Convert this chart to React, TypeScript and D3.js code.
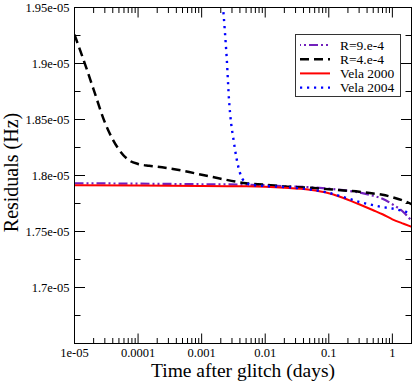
import * as d3 from "d3";

const width = 414;
const height = 382;

// plot frame (pixels)
const frame = { left: 74.5, right: 411.5, top: 7.5, bottom: 343.5 };

// R=9.e-4 (dash-dot)
const tR9 = [1e-5, 1e-4, 1e-3, 5e-3, 1e-2, 2e-2, 5e-2, 0.1, 0.2, 0.3, 0.5, 0.7, 1, 1.5, 2];
const vR9 = [1.7931e-5, 1.7927e-5, 1.7922e-5, 1.7918e-5, 1.7913e-5, 1.7904e-5, 1.7895e-5, 1.7882e-5,
  1.7864e-5, 1.7849e-5, 1.7819e-5, 1.7792e-5, 1.7743e-5, 1.7672e-5, 1.7596e-5];

// R=4.e-4 (dashed)
const tR4 = [1e-5, 1.5e-5, 2e-5, 3e-5, 5e-5, 7e-5, 1e-4, 1.5e-4, 2e-4, 5e-4, 1e-3, 2e-3, 5e-3,
  1e-2, 2e-2, 5e-2, 0.1, 0.2, 0.3, 0.5, 0.7, 1, 1.5, 2];
const vR4 = [1.9258e-5, 1.8977e-5, 1.8767e-5, 1.8475e-5, 1.8232e-5, 1.8141e-5, 1.8103e-5, 1.8087e-5,
  1.8079e-5, 1.8043e-5, 1.8007e-5, 1.7971e-5, 1.7931e-5, 1.7918e-5, 1.7902e-5, 1.7891e-5,
  1.7877e-5, 1.7864e-5, 1.7855e-5, 1.7839e-5, 1.7828e-5, 1.7806e-5, 1.7775e-5, 1.7745e-5];

// Vela 2000 (solid)
const tV2000 = [1e-5, 1e-4, 1e-3, 5e-3, 1e-2, 2e-2, 5e-2, 0.1, 0.2, 0.3, 0.5, 0.7, 1, 1.5, 2];
const vV2000 = [1.7913e-5, 1.7910e-5, 1.7906e-5, 1.7903e-5, 1.7899e-5, 1.7891e-5, 1.7873e-5, 1.7842e-5,
  1.7784e-5, 1.7743e-5, 1.7690e-5, 1.7654e-5, 1.7609e-5, 1.7569e-5, 1.7542e-5];

// Vela 2004 (dotted)
const tV2004 = [2.0e-3, 2.17e-3, 2.31e-3, 2.48e-3, 2.70e-3, 2.90e-3, 3.12e-3, 3.53e-3, 3.97e-3,
  4.38e-3, 5.06e-3, 5.7e-3, 1e-2, 2e-2, 5e-2, 0.1, 0.2, 0.3, 0.5, 0.7, 1, 1.5, 2];
const vV2004 = [1.977e-5, 1.9503e-5, 1.9301e-5, 1.9047e-5, 1.8669e-5, 1.8472e-5, 1.8347e-5, 1.8156e-5,
  1.8031e-5, 1.7969e-5, 1.7938e-5, 1.7918e-5, 1.7906e-5, 1.7897e-5, 1.7875e-5, 1.7845e-5,
  1.7795e-5, 1.7765e-5, 1.7735e-5, 1.7718e-5, 1.7705e-5, 1.7681e-5, 1.7663e-5];

const seriesNames = ["R=9.e-4", "R=4.e-4", "Vela 2000", "Vela 2004"];
const seriesColors = ["#7221bc", "#000000", "#ff0000", "#0000ff"];
const seriesDash = ["9,3,2,3,2,3", "9,5", null, "2.2,4.8"];
const seriesWidth = [2.2, 2.5, 2, 2.4];
const seriesT = [tR9, tR4, tV2000, tV2004];
const seriesV = [vR9, vR4, vV2000, vV2004];

const xMajor = [1e-5, 1e-4, 1e-3, 1e-2, 1e-1, 1];
const xLabels = ["1e-05", "0.0001", "0.001", "0.01", "0.1", "1"];
const yMajor = [1.65e-5, 1.7e-5, 1.75e-5, 1.8e-5, 1.85e-5, 1.9e-5, 1.95e-5];
const yLabels = ["", "1.7e-05", "1.75e-05", "1.8e-05", "1.85e-05", "1.9e-05", "1.95e-05"];
const yMinor = [1.675e-5, 1.725e-5, 1.775e-5, 1.825e-5, 1.875e-5, 1.925e-5];

const serif = { fontFamily: "Liberation Serif, Times New Roman, Times, serif" };

export default function App() {
  const x = d3.scaleLog().domain([1e-5, 2]).range([frame.left, frame.right]);
  const y = d3.scaleLinear().domain([1.65e-5, 1.95e-5]).range([frame.bottom, frame.top]);

  const line = d3
    .line<[number, number]>()
    .x((d) => x(d[0]))
    .y((d) => y(d[1]))
    .curve(d3.curveMonotoneX);

  // minor log ticks 2..9 per decade
  const xMinor: number[] = [];
  xMajor.forEach((d) => {
    for (let k = 2; k <= 9; k++) {
      const v = d * k;
      if (v < 2) xMinor.push(v);
    }
  });

  const plotW = frame.right - frame.left;
  const plotH = frame.bottom - frame.top;

  // legend
  const lg = { x: 295.5, y: 34.5, w: 105, h: 62, row: 14.2 };

  return (
    <div style={{ position: "absolute", left: 0, top: 0 }}>
      <svg width={width} height={height} style={{ display: "block", background: "#fff" }}>
        <defs>
          <clipPath id="plot-clip">
            <rect x={frame.left} y={frame.top} width={plotW} height={plotH} />
          </clipPath>
        </defs>

        {/* curves */}
        <g clipPath="url(#plot-clip)">
          {seriesNames.map((name, i) => (
            <path
              key={name}
              d={line(seriesT[i].map((t, j) => [t, seriesV[i][j]] as [number, number])) || ""}
              fill="none"
              stroke={seriesColors[i]}
              strokeWidth={seriesWidth[i]}
              strokeDasharray={seriesDash[i] || undefined}
            />
          ))}
        </g>

        {/* frame */}
        <rect x={frame.left} y={frame.top} width={plotW} height={plotH} fill="none" stroke="#000" strokeWidth={1} />

        {/* ticks on all four sides, pointing in */}
        <g stroke="#000" strokeWidth={1}>
          {xMajor.map((v) => (
            <g key={"xM" + v}>
              <line x1={x(v)} x2={x(v)} y1={frame.bottom} y2={frame.bottom - 10} />
              <line x1={x(v)} x2={x(v)} y1={frame.top} y2={frame.top + 10} />
            </g>
          ))}
          {xMinor.map((v) => (
            <g key={"xm" + v}>
              <line x1={x(v)} x2={x(v)} y1={frame.bottom} y2={frame.bottom - 5.5} />
              <line x1={x(v)} x2={x(v)} y1={frame.top} y2={frame.top + 5.5} />
            </g>
          ))}
          {yMajor.map((v) => (
            <g key={"yM" + v}>
              <line x1={frame.left} x2={frame.left + 10.5} y1={y(v)} y2={y(v)} />
              <line x1={frame.right} x2={frame.right - 10.5} y1={y(v)} y2={y(v)} />
            </g>
          ))}
          {yMinor.map((v) => (
            <g key={"ym" + v}>
              <line x1={frame.left} x2={frame.left + 6} y1={y(v)} y2={y(v)} />
              <line x1={frame.right} x2={frame.right - 6} y1={y(v)} y2={y(v)} />
            </g>
          ))}
        </g>

        {/* tick labels */}
        <g style={serif} fontSize={12.5} fill="#000">
          {xMajor.map((v, i) => (
            <text key={"xl" + v} x={x(v)} y={356.5} textAnchor="middle" style={serif}>
              {xLabels[i]}
            </text>
          ))}
          {yMajor.map((v, i) => (
            <text key={"yl" + v} x={69.5} y={y(v) + 4} textAnchor="end" style={serif}>
              {yLabels[i]}
            </text>
          ))}
        </g>

        {/* axis titles */}
        <text
          x={(frame.left + frame.right) / 2}
          y={376.5}
          textAnchor="middle"
          style={serif}
          fontSize={19.5}
        >
          Time after glitch (days)
        </text>
        <text
          transform={`translate(17.5,${(frame.top + frame.bottom) / 2 - 3}) rotate(-90)`}
          textAnchor="middle"
          style={serif}
          fontSize={20}
        >
          Residuals (Hz)
        </text>

        {/* legend */}
        <rect x={lg.x} y={lg.y} width={lg.w} height={lg.h} fill="#fff" stroke="#333" strokeWidth={1} />
        {seriesNames.map((name, i) => {
          const cy = lg.y + 10.5 + i * lg.row;
          return (
            <g key={"lg" + name}>
              <line
                x1={300}
                x2={330}
                y1={cy}
                y2={cy}
                stroke={seriesColors[i]}
                strokeWidth={seriesWidth[i]}
                strokeDasharray={seriesDash[i] || undefined}
                strokeDashoffset={i === 0 ? 13 : 0}
              />
              <text x={340} y={cy + 4.5} style={serif} fontSize={13.5}>
                {name}
              </text>
            </g>
          );
        })}
      </svg>
    </div>
  );
}
